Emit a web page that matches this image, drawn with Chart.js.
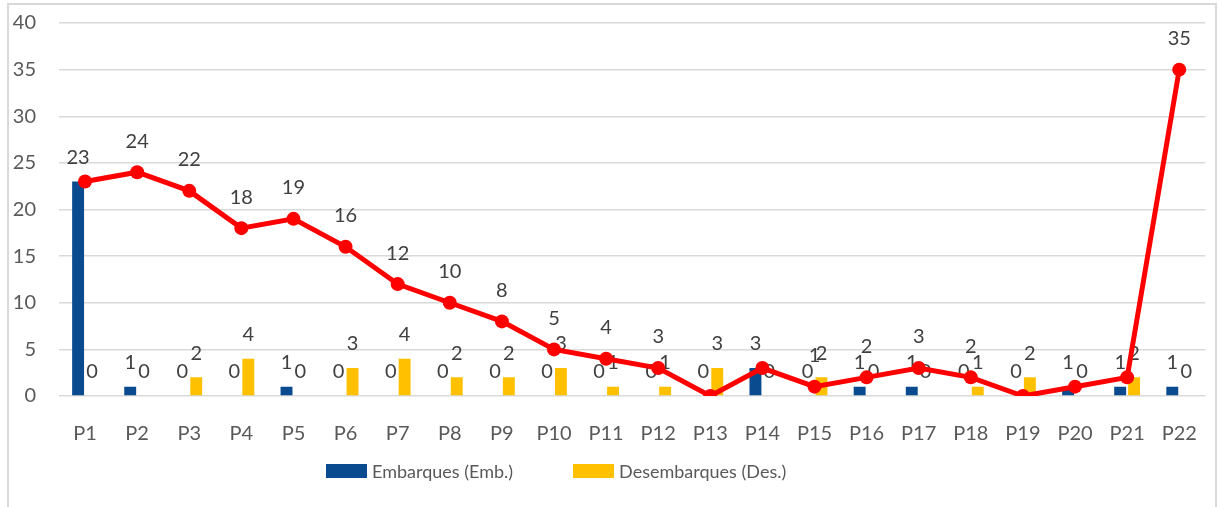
<!DOCTYPE html>
<html>
<head>
<meta charset="utf-8">
<script src="https://cdn.jsdelivr.net/npm/chart.js@4.4.1/dist/chart.umd.min.js"></script>
<style>
  body { margin: 0; background: #fff; font-family: Lato, sans-serif; }
  #frame {
    position: absolute; left: 7px; top: 3px;
    width: 1206px; height: 504px;
    border: 2px solid #d9d9d9; border-bottom: none;
  }
  #myChart { display: block; }
  #legend {
    position: absolute; left: 326px; top: 461px;
    display: flex; gap: 60px; font-size: 18px; color: #595959;
  }
  .item { display: flex; align-items: center; gap: 5px; height: 20px; }
  .box { width: 41px; height: 14px; }
</style>
</head>
<body>
<div id="frame"><canvas id="myChart" width="1206" height="502"></canvas></div>
<div id="legend"></div>
<script>
// dados por ponto
const categories = ["P1", "P2", "P3", "P4", "P5", "P6", "P7", "P8", "P9", "P10", "P11",
  "P12", "P13", "P14", "P15", "P16", "P17", "P18", "P19", "P20", "P21", "P22"];
const embarques = [23, 1, 0, 0, 1, 0, 0, 0, 0, 0, 0, 0, 0, 3, 0, 1, 1, 0, 0, 1, 1, 1];
const desembarques = [0, 0, 2, 4, 0, 3, 4, 2, 2, 3, 1, 1, 3, 0, 2, 0, 0, 1, 2, 0, 2, 0];
const ocupacao = [23, 24, 22, 18, 19, 16, 12, 10, 8, 5, 4, 3, 0, 3, 1, 2, 3, 2, 0, 1, 2, 35];
const yTicks = [0, 5, 10, 15, 20, 25, 30, 35, 40];

const textColor = "#595959";
const labelColor = "#404040";

//rótulos de dados desenhados logo depois de cada conjunto
const dataLabels = {
  id: "dataLabels",
  afterDatasetDraw(chart, args) {
    const ctx = chart.ctx;
    const ds = chart.data.datasets[args.index];
    const isLine = ds.type === "line";
    const offset = isLine ? 31 : 24;
    ctx.save();
    ctx.font = "20px Lato";
    ctx.fillStyle = labelColor;
    ctx.textAlign = "center";
    ctx.textBaseline = "middle";
    args.meta.data.forEach((el, i) => {
      //rótulo repetido da linha fica escondido como no original
      if (isLine && (ds.data[i] === embarques[i] || ds.data[i] === desembarques[i])) return;
      ctx.fillText(String(ds.data[i]), el.x, el.y - offset);
    });
    ctx.restore();
  },
};

const config = {
  data: {
    labels: categories,
    datasets: [
      {
        type: "line",
        label: "Ocupação",
        data: ocupacao,
        borderColor: "#ff0000",
        backgroundColor: "#ff0000",
        borderWidth: 5,
        pointRadius: 7,
        pointBackgroundColor: "#ff0000",
        pointBorderWidth: 0,
        order: 0,
      },
      {
        type: "bar",
        label: "Embarques (Emb.)",
        data: embarques,
        backgroundColor: "#0a4a8e",
        categoryPercentage: 0.534,
        barPercentage: 0.857,
        order: 1,
      },
      {
        type: "bar",
        label: "Desembarques (Des.)",
        data: desembarques,
        backgroundColor: "#ffc000",
        categoryPercentage: 0.534,
        barPercentage: 0.857,
        order: 1,
      },
    ],
  },
  options: {
    responsive: false,
    animation: false,
    layout: { padding: { left: 0, right: 4, top: 18, bottom: 0 } },
    plugins: {
      legend: { display: false },
      tooltip: { enabled: false },
    },
    scales: {
      x: {
        offset: true,
        grid: { display: false },
        border: { display: false },
        ticks: { color: textColor, font: { family: "Lato", size: 20 }, padding: 18, maxRotation: 0 },
        afterFit: (scale) => { scale.height = 111; },
      },
      y: {
        min: 0,
        max: 40,
        afterBuildTicks: (scale) => { scale.ticks = yTicks.map((v) => ({ value: v })); },
        grid: { color: "#d9d9d9", lineWidth: 1.5, drawTicks: false },
        border: { display: false },
        ticks: { color: textColor, font: { family: "Lato", size: 20 }, padding: 23 },
        afterFit: (scale) => {
          scale.width = 50;
          scale.paddingTop = 0;
          scale.paddingBottom = 0;
        },
      },
    },
  },
  plugins: [dataLabels],
};

const myChart = new Chart(document.getElementById("myChart"), config);

//legenda em html (sem a linha)
const legend = document.getElementById("legend");
myChart.data.datasets.filter((d) => d.type === "bar").forEach((d) => {
  legend.innerHTML += `<div class="item"><span class="box" style="background:${d.backgroundColor}"></span><span>${d.label}</span></div>`;
});
</script>
</body>
</html>
